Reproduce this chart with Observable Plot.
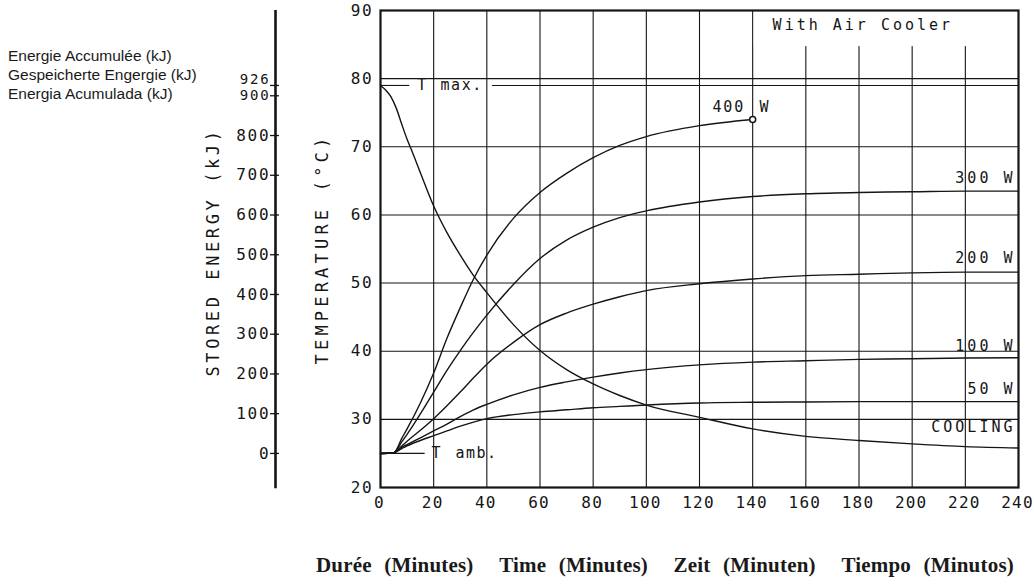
<!DOCTYPE html>
<html><head><meta charset="utf-8">
<script src="https://cdn.jsdelivr.net/npm/d3@7"></script>
<script src="https://cdn.jsdelivr.net/npm/@observablehq/plot@0.6"></script>
<style>
body{margin:0;background:#fff;}
#wrap{position:relative;width:1034px;height:584px;overflow:hidden;background:#fff;}
#legend{position:absolute;left:8px;top:46px;font-family:"Liberation Sans",Arial,sans-serif;font-size:15.5px;line-height:19px;color:#1a1a1a;}
#caption{position:absolute;left:316px;width:698px;top:553px;display:flex;justify-content:space-between;font-family:"Liberation Serif","Times New Roman",serif;font-weight:bold;font-size:21px;letter-spacing:0.2px;color:#1a1a1a;word-spacing:7px;}
#chart{position:absolute;left:0;top:0;}
svg text{font-family:"DejaVu Sans Mono",monospace;}
</style>
</head><body>
<div id="wrap">
  <div id="legend">Energie Accumulée (kJ)<br>Gespeicherte Engergie (kJ)<br>Energia Acumulada (kJ)</div>
  <div id="chart"></div>
  <div id="caption"><span>Durée (Minutes)</span><span>Time (Minutes)</span><span>Zeit (Minuten)</span><span>Tiempo (Minutos)</span></div>
</div>
<script>
// ---- data ----
const heatTimes = [0, 5, 8, 10, 15, 20, 25, 30, 35, 40, 50, 60, 70, 80, 90, 100, 120, 140, 160, 180, 200, 220, 240];
const w400 = [25, 25.1, 27.2, 28.6, 32.4, 36.8, 41.9, 46.4, 50.6, 54.1, 59.5, 63.3, 66.1, 68.4, 70.2, 71.5, 73.1, 74.0];
const w300 = [25, 25.1, 26.7, 27.8, 30.8, 34.0, 37.2, 40.1, 42.8, 45.3, 49.8, 53.6, 56.3, 58.2, 59.6, 60.6, 61.9, 62.7, 63.1, 63.3, 63.4, 63.5, 63.5];
const w200 = [25, 25.1, 26.1, 26.8, 28.4, 30.1, 32.0, 34.0, 36.1, 38.1, 41.3, 43.9, 45.6, 46.9, 48.0, 48.9, 49.9, 50.6, 51.1, 51.3, 51.5, 51.6, 51.6];
const w100 = [25, 25.1, 25.9, 26.3, 27.3, 28.3, 29.3, 30.4, 31.4, 32.2, 33.6, 34.7, 35.5, 36.2, 36.8, 37.3, 38.0, 38.4, 38.6, 38.8, 38.9, 39.0, 39.05];
const w50  = [25, 25.1, 25.7, 26.1, 26.9, 27.6, 28.3, 29.0, 29.6, 30.1, 30.7, 31.1, 31.4, 31.7, 31.9, 32.1, 32.4, 32.5, 32.55, 32.6, 32.6, 32.6, 32.6];
const coolTimes = [0, 2, 4, 6, 8, 10, 12, 15, 20, 25, 30, 35, 40, 50, 60, 70, 80, 90, 100, 120, 140, 160, 180, 200, 220, 240];
const cooling   = [79, 78.3, 77.3, 75.6, 73.3, 71.1, 69.2, 66.2, 61.3, 57.4, 54.1, 51.1, 48.6, 43.9, 40.1, 37.3, 35.2, 33.5, 32.1, 30.3, 28.6, 27.5, 26.9, 26.4, 26.0, 25.8];

const xTicks = [0, 20, 40, 60, 80, 100, 120, 140, 160, 180, 200, 220, 240];
const tempTicks = [20, 30, 40, 50, 60, 70, 80, 90];
const energyTicks = [0, 100, 200, 300, 400, 500, 600, 700, 800];
const energyTop = [900];
const energyMax = [926];
const Tamb = 25, Tmax = 79;

const rightLabels = ["300 W", "200 W", "100 W", "50 W", "COOLING"];
const rightLabelTemps = [65.4, 53.6, 40.8, 34.4, 28.9];
const noteText = ["400", "W", "T", "max.", "T", "amb."];
const noteX = [124.9, 142.6, 13.8, 22.6, 19.2, 28.2];
const noteY = [75.8, 75.8, 79, 79, 25, 25];
const boxLabel = ["With Air Cooler"];
const axisTitles = ["TEMPERATURE (°C)", "STORED ENERGY (kJ)"];
const tmaxSegments = [[0, 11], [42.1, 240]];
const tambSegments = [[0, 16.8]];

// ---- build tables ----
const Emax = energyMax[0];
const toTemp = e => Tamb + e * (Tmax - Tamb) / Emax;
const series = [["400", w400], ["300", w300], ["200", w200], ["100", w100], ["50", w50]];
const lines = [];
for (const [k, vals] of series) vals.forEach((v, i) => lines.push({s: k, t: heatTimes[i], T: v}));
coolTimes.forEach((t, i) => lines.push({s: "cool", t, T: cooling[i]}));
const end400 = [{t: heatTimes[w400.length - 1], T: w400[w400.length - 1]}];
const notes = noteText.map((s, i) => ({s, t: noteX[i], T: noteY[i]}));
const rl = rightLabels.map((s, i) => ({s, T: rightLabelTemps[i]}));
const allEnergy = energyTicks.concat(energyTop, energyMax);

const ink = "#151515";
const chart = Plot.plot({
  width: 1034, height: 530,
  marginLeft: 380, marginRight: 16, marginTop: 10, marginBottom: 43,
  style: {fontFamily: "DejaVu Sans Mono, monospace", color: ink, background: "transparent"},
  x: {domain: [0, 240], label: null},
  y: {domain: [20, 90], label: null},
  marks: [
    Plot.gridX(xTicks.slice(1, -1), {stroke: ink, strokeOpacity: 1, strokeWidth: 1.1}),
    Plot.gridY(tempTicks.slice(1, -1), {stroke: ink, strokeOpacity: 1, strokeWidth: 1.1}),
    Plot.rect([{x1: 140.6, x2: 239.5, y1: 84.7, y2: 89.85}], {x1: "x1", x2: "x2", y1: "y1", y2: "y2", fill: "white"}),
    Plot.ruleY(tmaxSegments, {y: Tmax, x1: d => d[0], x2: d => d[1], stroke: ink, strokeWidth: 1.1}),
    Plot.ruleY(tambSegments, {y: Tamb, x1: d => d[0], x2: d => d[1], stroke: ink, strokeWidth: 1.3}),
    Plot.line(lines, {x: "t", y: "T", z: "s", stroke: ink, strokeWidth: 1.4, curve: "monotone-x"}),
    Plot.dot(end400, {x: "t", y: "T", r: 3, stroke: ink, fill: "white", strokeWidth: 1.5}),
    Plot.frame({stroke: ink, strokeWidth: 2.2}),
    Plot.axisX({ticks: xTicks, tickSize: 0, tickPadding: 9, fontSize: 16, dx: -1, label: null}),
    Plot.axisY({ticks: tempTicks, tickSize: 0, tickPadding: 7, fontSize: 16, label: null}),
    // stored-energy axis (same scale, energy mapped to temperature)
    Plot.ruleX([0], {y1: 19.8, y2: 90, dx: -105, stroke: ink, strokeWidth: 2.6}),
    Plot.ruleY(allEnergy, {y: toTemp, x1: 0, x2: 0, dx: -105, insetLeft: -5, insetRight: -4, stroke: ink, strokeWidth: 1.3}),
    Plot.text(energyTicks, {x: 0, y: toTemp, text: d => String(d), dx: -110, textAnchor: "end", fontSize: 16, fill: ink}),
    Plot.text(energyTop, {x: 0, y: toTemp, text: d => String(d), dx: -110, dy: 0, textAnchor: "end", fontSize: 14, fill: ink}),
    Plot.text(energyMax, {x: 0, y: toTemp, text: d => String(d), dx: -110, dy: -6, textAnchor: "end", fontSize: 14, fill: ink}),
    Plot.text([axisTitles[0]], {frameAnchor: "left", dx: -58, rotate: -90, textAnchor: "middle", fontSize: 17, fill: ink}),
    Plot.text([axisTitles[1]], {frameAnchor: "left", dx: -167, dy: 3, rotate: -90, textAnchor: "middle", fontSize: 17, fill: ink}),
    Plot.text(rl, {x: 240, y: "T", text: "s", textAnchor: "end", dx: -3, fontSize: 15, fill: ink}),
    Plot.text(notes, {x: "t", y: "T", text: "s", textAnchor: "start", fontSize: 15, fill: ink}),
    Plot.text(boxLabel, {x: 147.5, y: 87.9, textAnchor: "start", fontSize: 15, fill: ink})
  ]
});
document.getElementById("chart").appendChild(chart);

// letter spacing to imitate the wide plotter lettering
const xLabelSet = new Set(xTicks.map(String));
d3.select(chart).selectAll("text").each(function() {
  const s = this.textContent.trim();
  let ls = 1.5;
  if (s === axisTitles[0]) ls = 4.2;
  else if (s === axisTitles[1]) ls = 3.6;
  else if (rightLabels.includes(s) || boxLabel.includes(s)) ls = 3;
  else if (/^\d+$/.test(s)) ls = 1.8;
  const g = this.closest("g");
  if (g && g.getAttribute("aria-label") === "x-axis tick label" && xLabelSet.has(s)) ls = 1.2;
  this.style.letterSpacing = ls + "px";
});
</script>
</body></html>
